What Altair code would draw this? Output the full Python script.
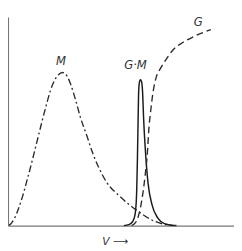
import altair as alt
import pandas as pd

# curve points (x in arbitrary V units, y in arbitrary intensity units)
m_x = [1, 4, 7, 11, 15, 20, 25, 30, 35, 40, 44, 48, 52, 56.5, 61, 65, 70, 75, 82, 87, 94, 102, 115, 133, 153, 163, 177]
m_y = [0, 3, 8, 18, 30, 48, 67, 87, 107, 126, 140, 150, 156, 158.5, 155, 146, 130, 112, 92, 77, 60, 45, 31, 16, 4, 1, 0]

gm_x = [120, 125, 129, 131.5, 133, 134, 134.7, 135.3, 136, 137, 138.3, 139.3, 140.5, 142.5, 145, 149, 155, 162, 172]
gm_y = [0, 1, 4, 11, 29, 69, 109, 139, 148, 151, 149, 139, 109, 74, 44, 22, 8, 2, 0]

g_x = [128, 132, 135, 139, 142, 144, 146, 148, 150, 153, 158, 163, 171, 180, 193, 210]
g_y = [0, 3, 10, 29, 52, 71, 102, 121, 137, 152, 163, 171, 182, 189, 196, 203]

label_text = ["M", "G·M", "G"]
label_x = [55, 132, 197]
label_y = [170, 166, 211]

def frame(name, xs, ys):
    return pd.DataFrame({"v": xs, "i": ys, "curve": name, "o": range(len(xs))})

df = pd.concat([frame("M", m_x, m_y), frame("GM", gm_x, gm_y), frame("G", g_x, g_y)])
labels = pd.DataFrame({"t": label_text, "v": label_x, "i": label_y})

xs = alt.Scale(domain=[0, 234], nice=False, zero=False)
ys = alt.Scale(domain=[0, 216], nice=False, zero=False)

base = alt.Chart(df).mark_line().encode(
    x=alt.X("v:Q", scale=xs, axis=alt.Axis(title="V ⟶", ticks=False, labels=False, grid=False,
                                             domainColor="#777", domainWidth=1.2,
                                             titleFontStyle="italic", titleFontWeight="normal",
                                             titleFont="DejaVu Sans", titleFontSize=11, titleColor="#333",
                                             titleAnchor="start", titleX=97, titleY=17, titleBaseline="middle")),
    y=alt.Y("i:Q", scale=ys, axis=alt.Axis(title=None, ticks=False, labels=False, grid=False,
                                             domainColor="#777", domainWidth=1.2)),
    order="o:Q",
)

m_line = base.transform_filter(alt.datum.curve == "M").mark_line(
    color="#2a2a2a", strokeWidth=1.4, interpolate="monotone", strokeDash=[7, 3, 2, 3])
gm_line = base.transform_filter(alt.datum.curve == "GM").mark_line(
    color="#1a1a1a", strokeWidth=1.5, interpolate="monotone")
g_line = base.transform_filter(alt.datum.curve == "G").mark_line(
    color="#2a2a2a", strokeWidth=1.4, interpolate="monotone", strokeDash=[7, 4])

text = alt.Chart(labels).mark_text(fontStyle="italic", fontSize=12, font="DejaVu Sans",
                                   color="#333").encode(
    x=alt.X("v:Q", scale=xs), y=alt.Y("i:Q", scale=ys), text="t:N")

chart = alt.layer(m_line, gm_line, g_line, text).properties(
    width=234, height=216,
    padding={"top": 5, "left": 0, "right": 0, "bottom": 22},
    autosize=alt.AutoSizeParams(type="none"),
).configure_view(stroke=None)

chart.save("out.html", embed_options={"renderer": "svg", "actions": False})
